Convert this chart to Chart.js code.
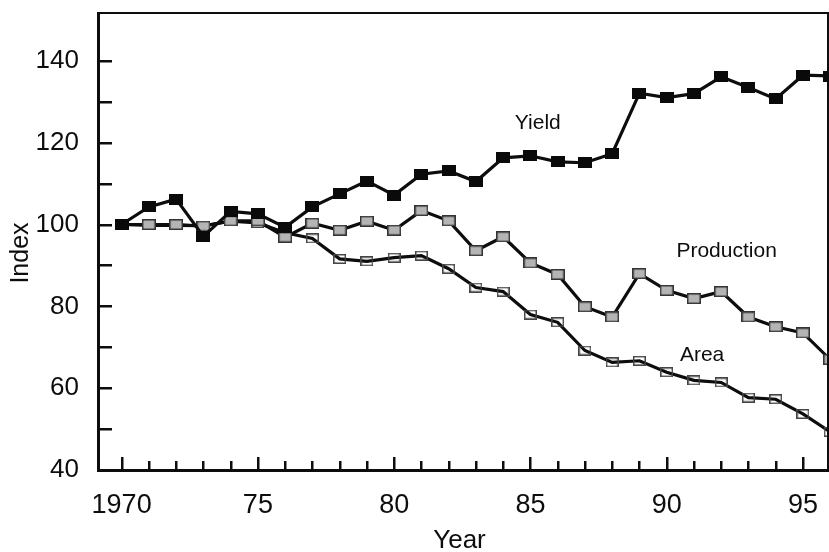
<!DOCTYPE html>
<html>
<head>
<meta charset="utf-8">
<script src="https://cdn.jsdelivr.net/npm/chart.js@4.4.0/dist/chart.umd.min.js"></script>
<style>
  html, body { margin: 0; padding: 0; background: #fff; overflow: hidden; }
  #myChart { display: block; }
</style>
</head>
<body>
<canvas id="myChart" width="829" height="552"></canvas>
<script>
// Indices, 1970 = 100
var years = [1970, 1971, 1972, 1973, 1974, 1975, 1976, 1977, 1978, 1979, 1980, 1981, 1982,
             1983, 1984, 1985, 1986, 1987, 1988, 1989, 1990, 1991, 1992, 1993, 1994, 1995, 1996];
var yieldIdx = [100, 104.3, 106.2, 97.1, 103.2, 102.6, 99.3, 104.3, 107.5, 110.6, 107.2, 112.3, 113.1,
                110.5, 116.3, 116.8, 115.3, 115.1, 117.3, 132.1, 131.0, 132.0, 136.1, 133.5, 130.7, 136.5, 136.3];
var production = [100, 100, 100, 99.6, 100.9, 100.9, 96.9, 100.3, 98.6, 100.8, 98.6, 103.4, 100.9,
                  93.6, 97.0, 90.6, 87.8, 79.9, 77.4, 88.0, 83.9, 81.9, 83.6, 77.4, 75.0, 73.5, 67.0];
var area = [100, 99.8, 99.8, 99.7, 100.8, 100.4, 98.0, 96.6, 91.6, 91.0, 91.9, 92.4, 89.2,
            84.6, 83.6, 78.0, 76.1, 69.2, 66.3, 66.7, 63.9, 61.9, 61.4, 57.7, 57.3, 53.7, 49.3];

var yTickValues = [40, 50, 60, 70, 80, 90, 100, 110, 120, 130, 140];
var seriesNames = ['Yield', 'Production', 'Area'];

var FONT = 'Arial, "Liberation Sans", sans-serif';
var INK = '#0d0d0d';

function toPoints(vals) {
    return vals.map(function (v, i) { return { x: years[i], y: v }; });
}

// small rectangular marker drawn once on an offscreen canvas
function squareMarker(w, h, fill, stroke) {
    var c = document.createElement('canvas');
    c.width = w; c.height = h;
    var g = c.getContext('2d');
    if (fill) { g.fillStyle = fill; g.fillRect(0, 0, w, h); }
    g.strokeStyle = stroke;
    g.lineWidth = 1.5;
    g.strokeRect(0.75, 0.75, w - 1.5, h - 1.5);
    return c;
}

var markYield = squareMarker(14, 11, '#0a0a0a', '#0a0a0a');
var markProd = squareMarker(14, 11, '#b4b4b4', '#333');
var markArea = squareMarker(13, 10, null, '#444');

// axis frame, inward tick marks, axis titles and series names
var frameAndLabels = {
    id: 'frameAndLabels',
    afterDraw: function (chart, args, opts) {
        var ctx = chart.ctx;
        var xs = chart.scales.x, ys = chart.scales.y;
        var L = Math.round(xs.left), R = Math.round(xs.right);
        var T = Math.round(ys.top), B = Math.round(ys.bottom);
        ctx.save();
        ctx.fillStyle = INK;

        // frame: heavier on the left and bottom
        ctx.fillRect(L - 1, T - 1, R - L + 1, 2);
        ctx.fillRect(R - 1, T - 1, 2, B - T + 2);
        ctx.fillRect(L - 2, T - 1, 3, B - T + 3);
        ctx.fillRect(L - 2, B - 1, R - L + 3, 3);

        years.forEach(function (yr) {
            if (yr > xs.max) return;
            var px = Math.round(xs.getPixelForValue(yr));
            var len = yr % 5 === 0 ? 13 : 9;
            ctx.fillRect(px - 1, B - len, 2.5, len);
        });
        yTickValues.forEach(function (v) {
            if (v === ys.min) return;
            var py = Math.round(ys.getPixelForValue(v));
            ctx.fillRect(L, py - 1, 13, 2.5);
        });

        ctx.textAlign = 'center';
        ctx.textBaseline = 'middle';

        ctx.font = '26px ' + FONT;
        ctx.fillText('Year', (L + R) / 2 - 4, 541);

        ctx.save();
        ctx.translate(21, 253);
        ctx.rotate(-Math.PI / 2);
        ctx.font = '25px ' + FONT;
        ctx.fillText('Index', 0, 0);
        ctx.restore();

        ctx.font = '21px ' + FONT;
        opts.anchors.forEach(function (p, i) {
            ctx.fillText(seriesNames[i], xs.getPixelForValue(p.x), ys.getPixelForValue(p.y));
        });
        ctx.restore();
    }
};

var ctx = document.getElementById('myChart').getContext('2d');
var myChart = new Chart(ctx, {
    type: 'line',
    data: {
        datasets: [{
            label: 'Yield',
            data: toPoints(yieldIdx),
            borderColor: INK,
            borderWidth: 3.2,
            pointStyle: markYield,
            pointRadius: 7
        }, {
            label: 'Production',
            data: toPoints(production),
            borderColor: INK,
            borderWidth: 3.2,
            pointStyle: markProd,
            pointRadius: 7
        }, {
            label: 'Area',
            data: toPoints(area),
            borderColor: INK,
            borderWidth: 3.2,
            pointStyle: markArea,
            pointRadius: 7
        }]
    },
    options: {
        responsive: false,
        animation: false,
        clip: false,
        layout: { autoPadding: false, padding: { top: 13, right: 1, left: 0, bottom: 0 } },
        scales: {
            x: {
                type: 'linear',
                min: 1969.17,
                max: 1995.92,
                grid: { display: false },
                border: { display: false },
                afterBuildTicks: function (scale) {
                    scale.ticks = years.filter(function (y) { return y <= scale.max; })
                        .map(function (y) { return { value: y }; });
                },
                afterFit: function (scale) {
                    scale.height = 82;
                    scale.paddingLeft = 0;
                    scale.paddingRight = 0;
                },
                ticks: {
                    autoSkip: false,
                    maxRotation: 0,
                    padding: 11,
                    color: INK,
                    font: { family: FONT, size: 27 },
                    callback: function (v) {
                        if (v % 5 !== 0) return '';
                        return v === 1970 ? '1970' : String(v).slice(2);
                    }
                }
            },
            y: {
                min: 40,
                max: 151.7,
                grid: { display: false },
                border: { display: false },
                afterBuildTicks: function (scale) {
                    scale.ticks = yTickValues.map(function (v) { return { value: v }; });
                },
                afterFit: function (scale) {
                    scale.width = 99;
                    scale.paddingTop = 0;
                    scale.paddingBottom = 0;
                },
                ticks: {
                    autoSkip: false,
                    padding: 12,
                    color: INK,
                    font: { family: FONT, size: 26 },
                    callback: function (v) { return v % 20 === 0 ? String(v) : ''; }
                }
            }
        },
        plugins: {
            legend: { display: false },
            tooltip: { enabled: false },
            frameAndLabels: {
                anchors: [{ x: 1985.27, y: 124.8 }, { x: 1992.2, y: 93.5 }, { x: 1991.3, y: 68.1 }]
            }
        }
    },
    plugins: [frameAndLabels]
});
</script>
</body>
</html>
